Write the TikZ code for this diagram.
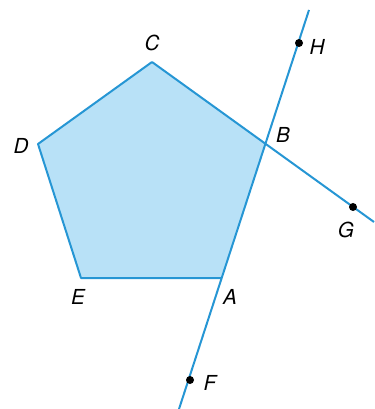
\documentclass[tikz,border=0pt]{standalone}
\usepackage{fontspec}
\setmainfont{TeX Gyre Heros}
\definecolor{edgeblue}{RGB}{38,150,212}
\definecolor{faceblue}{RGB}{184,225,247}
\begin{document}
\begin{tikzpicture}[x=0.75pt,y=-0.75pt,font=\fontsize{15.5}{18}\selectfont\itshape,
 edge/.style={draw=edgeblue,line width=1.5pt},
 pt/.style={circle,fill=black,inner sep=0pt,minimum size=6pt}]
 \useasboundingbox (0,0) rectangle (374,409);
 % vertices of the pentagon and the line ends
 \coordinate (C) at (152,62);
 \coordinate (B) at (265,144);
 \coordinate (A) at (222,278);
 \coordinate (E) at (81,278);
 \coordinate (D) at (38,144);
 \coordinate (top) at (309,10);
 \coordinate (bot) at (179,409);
 \coordinate (right) at (374,222);
 \fill[faceblue] (A)--(B)--(C)--(D)--(E)--cycle;
 \draw[edge,line join=round] (A)--(E)--(D)--(C);
 \draw[edge] (C)--(right);
 \draw[edge] (bot)--(top);
 % points on the lines
 \node[pt] (H) at (299,43) {};
 \node[pt] (G) at (353,207) {};
 \node[pt] (F) at (190,380) {};
 \foreach \p/\x/\y in {C/152/43, D/21/146, B/283/135, H/317/47,
 G/346/230, E/78/297, A/230/297, F/210/383}
 \node (lab\p) at (\x,\y) {\p};
\end{tikzpicture}
\end{document}
